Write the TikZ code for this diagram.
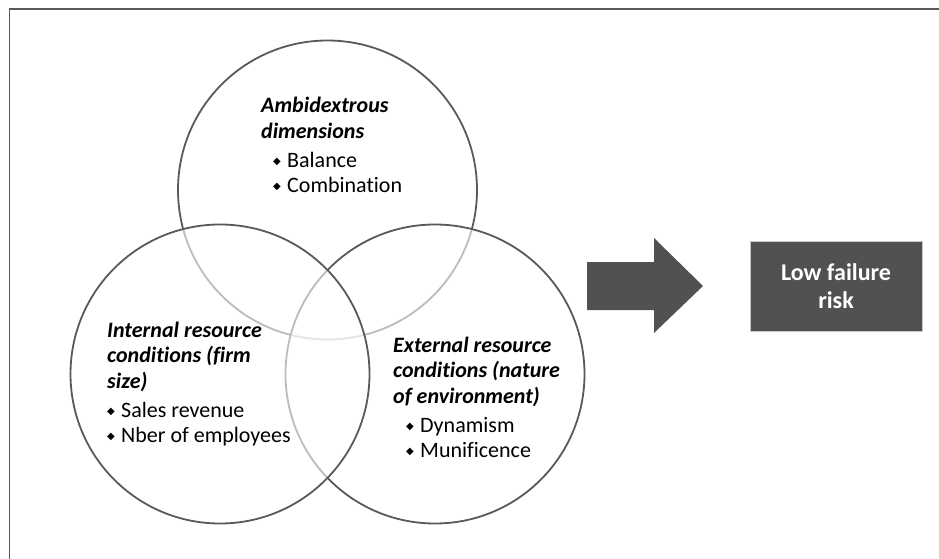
\documentclass[tikz,border=0pt]{standalone}
\usepackage{fontspec}
\setmainfont[Ligatures=CommonOff]{Carlito}
\newfontfamily\symfont{DejaVu Sans}
\usetikzlibrary{positioning}
\definecolor{linegray}{HTML}{595959}
\definecolor{boxgray}{HTML}{515151}
\tikzstyle{venn} = [circle, minimum size=299pt, inner sep=0pt, draw=linegray, line width=1.8pt, fill=white, fill opacity=0.6]
\tikzstyle{venntext} = [anchor=north west, inner sep=0pt, align=left, font=\fontsize{22}{25.7}\selectfont, text=black]
\tikzstyle{outcome} = [rectangle, minimum width=172pt, minimum height=90pt, fill=boxgray, draw=gray!45, line width=0.8pt, text=white, align=center, font=\fontsize{24}{28}\selectfont\bfseries]
\newcommand{\bul}{\makebox[14pt][l]{\symfont\fontsize{10}{10}\selectfont\raisebox{3pt}{◆}}}
\newcommand{\hd}[1]{\textbf{\textit{#1}}}

\begin{document}
\begin{tikzpicture}[x=1pt, y=-1pt]
\useasboundingbox (0,0) rectangle (939,559);
% frame
\draw [linegray, line width=1pt] (9,559) -- (9,9);
\draw [linegray, line width=1.8pt] (8.5,9) -- (939,9);
% the three circles
\node (amb) [venn] at (327.5,190) {};
\node (ext) [venn] at (435,374) {};
\node (int) [venn] at (220,374) {};
\node (ambtext) [venntext] at (261,94.7) {\strut\hd{Ambidextrous}\\\hd{dimensions}\\[3pt]\hspace{12pt}\bul Balance\\\hspace{12pt}\bul Combination};
\node (inttext) [venntext] at (107,319) {\strut\hd{Internal resource}\\\hd{conditions (firm}\\\hd{size)}\\[3pt]\bul Sales revenue\\\bul Nber of employees};
\node (exttext) [venntext] at (393,334) {\strut\hd{External resource}\\\hd{conditions (nature}\\\hd{of environment)}\\[3pt]\hspace{13pt}\bul Dynamism\\\hspace{13pt}\bul Munificence};
% block arrow and outcome
\fill [boxgray] (587,262) -- (654,262) -- (654,238) -- (703,286) -- (654,333) -- (654,310) -- (587,310) -- cycle;
\node (risk) [outcome] at (836,286) {Low failure\\risk};
\end{tikzpicture}
\end{document}
